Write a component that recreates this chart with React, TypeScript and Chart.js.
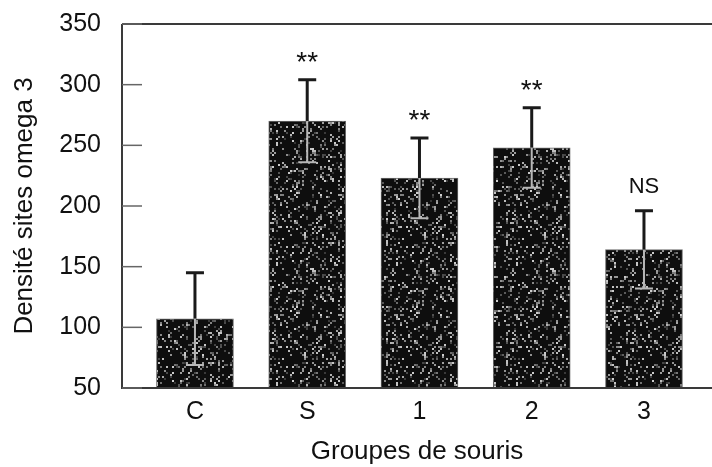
import React, { useEffect, useRef } from "react";
import { Chart, registerables } from "chart.js";

Chart.register(...registerables);

const CATEGORIES = ["C", "S", "1", "2", "3"];
const MEANS = [107, 270, 223, 248, 164];
const ERRORS = [38, 34, 33, 33, 32];
const SIGNIF = ["", "**", "**", "**", "NS"];
const Y_TICKS = [50, 100, 150, 200, 250, 300, 350];
const Y_TITLE = "Densité sites omega 3";
const X_TITLE = "Groupes de souris";

const FONT = "'Liberation Sans', Arial, Helvetica, sans-serif";

function makePattern(): CanvasPattern | string {
  const N = 120;
  const c = document.createElement("canvas");
  c.width = N;
  c.height = N;
  const ctx = c.getContext("2d");
  if (!ctx) return "#222";
  const img = ctx.createImageData(N, N);
  for (let y = 0; y < N; y++) {
    for (let x = 0; x < N; x++) {
      const bx = x >> 1;
      const by = y >> 1;
      let h = (bx * 374761393 + by * 668265263) | 0;
      h = Math.imul(h ^ (h >>> 13), 1274126177);
      h = (h ^ (h >>> 16)) >>> 0;
      const r = (h % 1000) / 1000;
      let g = 14;
      if (r < 0.2) g = 50 + Math.floor(r * 800);
      const i = (y * N + x) * 4;
      img.data[i] = g;
      img.data[i + 1] = g;
      img.data[i + 2] = g;
      img.data[i + 3] = 255;
    }
  }
  ctx.putImageData(img, 0, 0);
  const p = ctx.createPattern(c, "repeat");
  return p || "#222";
}

const decorPlugin = {
  id: "decor",
  afterDatasetsDraw(chart: any) {
    const ctx = chart.ctx;
    const area = chart.chartArea;
    const ys = chart.scales.y;
    const meta = chart.getDatasetMeta(0);
    ctx.save();
    ctx.strokeStyle = "#3a3a3a";
    ctx.lineWidth = 2;
    ctx.beginPath();
    ctx.moveTo(area.left, area.top);
    ctx.lineTo(area.right, area.top);
    ctx.moveTo(area.left, area.top);
    ctx.lineTo(area.left, area.bottom);
    ctx.lineTo(area.right, area.bottom);
    ctx.stroke();
    ctx.strokeStyle = "#666";
    ctx.lineWidth = 1.5;
    ys.ticks.forEach((t: any) => {
      const py = ys.getPixelForValue(t.value);
      ctx.beginPath();
      ctx.moveTo(area.left, py);
      ctx.lineTo(area.left + 20, py);
      ctx.stroke();
    });
    meta.data.forEach((bar: any, i: number) => {
      const x = bar.x;
      const top = ys.getPixelForValue(MEANS[i]);
      const hi = ys.getPixelForValue(MEANS[i] + ERRORS[i]);
      const lo = ys.getPixelForValue(MEANS[i] - ERRORS[i]);
      ctx.strokeStyle = "#1a1a1a";
      ctx.lineWidth = 3;
      ctx.beginPath();
      ctx.moveTo(x, top);
      ctx.lineTo(x, hi);
      ctx.moveTo(x - 9, hi);
      ctx.lineTo(x + 9, hi);
      ctx.stroke();
      ctx.strokeStyle = "#b8b8b8";
      ctx.lineWidth = 2;
      ctx.beginPath();
      ctx.moveTo(x, top);
      ctx.lineTo(x, lo);
      ctx.moveTo(x - 9, lo);
      ctx.lineTo(x + 9, lo);
      ctx.stroke();
      const s = SIGNIF[i];
      if (s) {
        ctx.fillStyle = "#111";
        ctx.textAlign = "center";
        ctx.textBaseline = "alphabetic";
        if (s === "NS") {
          ctx.font = `22px ${FONT}`;
          ctx.fillText(s, x, hi - 18);
        } else {
          ctx.font = `28px ${FONT}`;
          ctx.fillText(s, x, hi - 9);
        }
      }
    });
    ctx.restore();
  },
};

export default function App() {
  const ref = useRef<HTMLCanvasElement | null>(null);
  useEffect(() => {
    if (!ref.current) return;
    const pattern = makePattern();
    const chart = new Chart(ref.current, {
      type: "bar",
      data: {
        datasets: [
          {
            data: MEANS.map((v, i) => ({ x: i, y: v })),
            backgroundColor: pattern as any,
            borderColor: "#6a6a6a",
            borderWidth: 1,
            barThickness: 77,
          },
        ],
      },
      options: {
        responsive: false,
        animation: false,
        layout: { padding: { top: 24, right: 0, bottom: 0, left: 0 } },
        plugins: { legend: { display: false }, tooltip: { enabled: false } },
        scales: {
          x: {
            type: "linear",
            offset: false,
            min: -0.65,
            max: 4.606,
            grid: { display: false, drawTicks: false, offset: false },
            border: { display: false },
            afterBuildTicks: (s: any) => {
              s.ticks = CATEGORIES.map((_, i) => ({ value: i }));
            },
            afterFit: (s: any) => {
              s.height = 79;
              s.paddingLeft = 0;
              s.paddingRight = 0;
            },
            ticks: {
              autoSkip: false,
              maxRotation: 0,
              padding: 9,
              color: "#111",
              font: { family: FONT, size: 25 },
              callback: (v: any) => CATEGORIES[v] ?? "",
            },
            title: {
              display: true,
              text: X_TITLE,
              color: "#111",
              font: { family: FONT, size: 26 },
              padding: { top: 0, bottom: 0 },
            },
          },
          y: {
            min: 50,
            max: 350,
            grid: { display: false, drawTicks: false },
            border: { display: false },
            afterBuildTicks: (s: any) => {
              s.ticks = Y_TICKS.map((v) => ({ value: v }));
            },
            afterFit: (s: any) => {
              s.width = 122;
              s.paddingTop = 0;
              s.paddingBottom = 0;
            },
            ticks: {
              padding: 21,
              color: "#111",
              font: { family: FONT, size: 25 },
            },
            title: {
              display: true,
              text: Y_TITLE,
              color: "#111",
              font: { family: FONT, size: 26 },
              padding: { top: 9, bottom: 0 },
            },
          },
        },
      },
      plugins: [decorPlugin],
    });
    return () => chart.destroy();
  }, []);
  return (
    <div style={{ position: "absolute", left: 0, top: 0, width: 712, height: 467, background: "#fff" }}>
      <canvas ref={ref} width={712} height={467} style={{ display: "block" }} />
    </div>
  );
}
